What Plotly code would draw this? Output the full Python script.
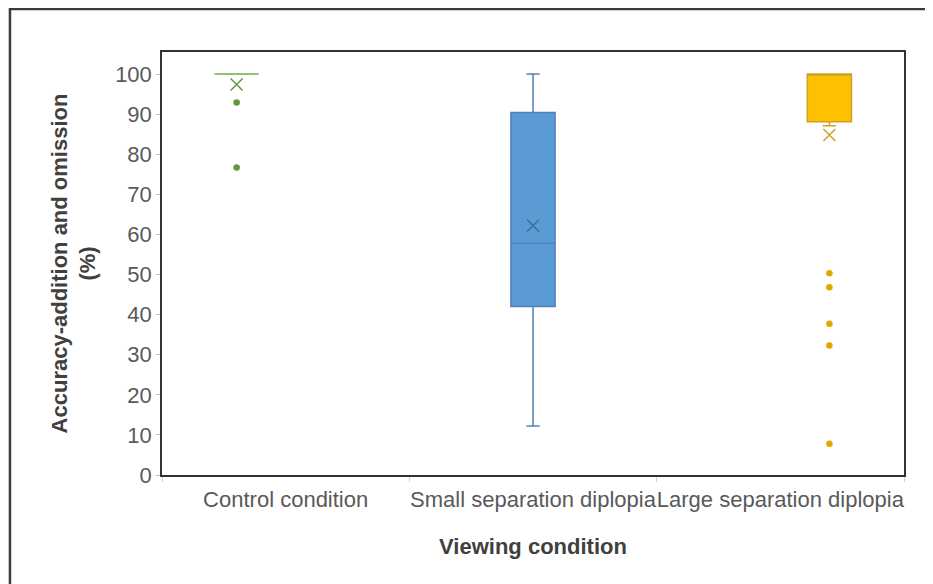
import plotly.graph_objects as go

categories = ["Control condition", "Small separation diplopia", "Large separation diplopia"]
series_names = ["Control", "Small", "Large"]
q1 = [100, 42.0, 88.1]
median = [100, 57.8, 100]
q3 = [100, 90.4, 100]
lowerfence = [100, 12.2, 87.1]
upperfence = [100, 100, 100]
means = [97.4, 62.2, 84.8]
outliers = [[92.9, 76.7], [], [50.3, 46.8, 37.7, 32.3, 7.8]]

fill_colors = ["#70AD47", "#5B9BD5", "#FFC000"]
line_colors = ["#70AD47", "#4F81B4", "#C9A227"]
mean_colors = ["#5E9A3A", "#41719C", "#C9A227"]
point_colors = ["#5E9A3A", "#41719C", "#E0A800"]

GAP = 0.405
GROUPGAP = 0.10

fig = go.Figure()
for i, cat in enumerate(categories):
    fig.add_trace(go.Box(
        x=[cat], q1=[q1[i]], median=[median[i]], q3=[q3[i]],
        lowerfence=[lowerfence[i]], upperfence=[upperfence[i]],
        name=series_names[i], offsetgroup=str(i), alignmentgroup="a",
        fillcolor=fill_colors[i], line=dict(color=line_colors[i], width=1.5),
        whiskerwidth=0.3, boxpoints=False, showlegend=False,
    ))
for i, cat in enumerate(categories):
    fig.add_trace(go.Scatter(
        x=[cat], y=[means[i]], mode="markers",
        offsetgroup=str(i), alignmentgroup="a",
        marker=dict(symbol="x-thin-open", size=12, color=mean_colors[i],
                    line=dict(color=mean_colors[i], width=1.5)),
        showlegend=False, hoverinfo="y",
    ))
    if outliers[i]:
        fig.add_trace(go.Scatter(
            x=[cat] * len(outliers[i]), y=outliers[i], mode="markers",
            offsetgroup=str(i), alignmentgroup="a",
            marker=dict(symbol="circle", size=6.5, color=point_colors[i]),
            showlegend=False, hoverinfo="y",
        ))

# the page body has an 8px margin, so the figure is shrunk and shifted accordingly
fig.update_layout(
    width=925, height=576,
    margin=dict(l=154, r=29, t=44, b=109),
    paper_bgcolor="white", plot_bgcolor="white",
    boxmode="group", boxgap=GAP, boxgroupgap=GROUPGAP,
    scattermode="group", scattergap=GAP,
    font=dict(family="Liberation Sans, Arial, sans-serif", color="#595959", size=22),
    xaxis=dict(
        type="category", categoryorder="array", categoryarray=categories,
        showline=True, linecolor="#333333", linewidth=1.5, mirror=True,
        ticks="outside", tickson="boundaries", ticklen=5, tickcolor="#D0D0D0",
        showgrid=False, tickfont=dict(size=22, color="#595959"), tickangle=0,
        ticklabelstandoff=4, automargin=False,
        title=dict(text="<b>Viewing condition</b>", font=dict(size=22, color="#404040"), standoff=27),
    ),
    yaxis=dict(
        range=[0, 105.5], tickvals=[0, 10, 20, 30, 40, 50, 60, 70, 80, 90, 100],
        showline=True, linecolor="#333333", linewidth=1.5, mirror=True,
        ticks="outside", ticklen=4, tickcolor="#BFBFBF", showgrid=False, zeroline=False,
        tickfont=dict(size=22, color="#595959"), automargin=False,
        title=dict(text="<b>Accuracy-addition and omission<br>(%)</b>", font=dict(size=22, color="#404040"), standoff=13),
    ),
    shapes=[dict(
        type="path", xref="paper", yref="paper",
        path="M 2,1.1014 L -0.2049,1.1014 L -0.2049,-1",
        line=dict(color="#3A3A3A", width=2.5),
    )],
)

fig.write_html("out.html")
